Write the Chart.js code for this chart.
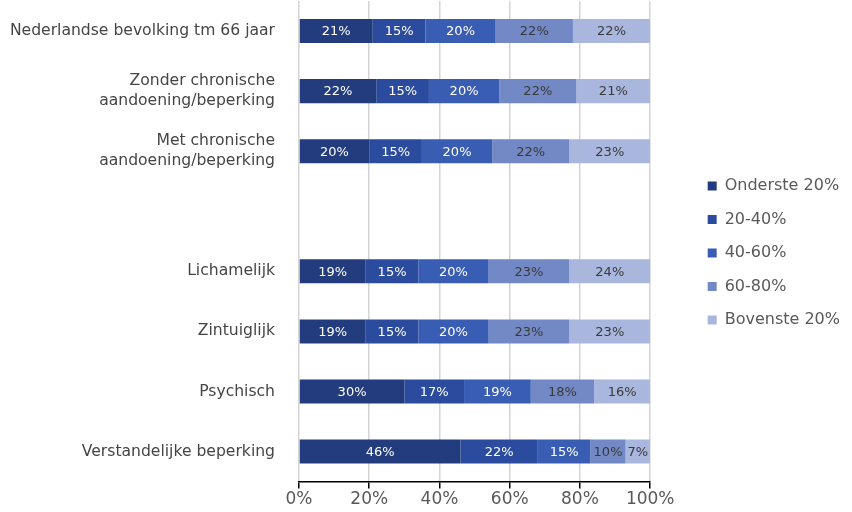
<!DOCTYPE html>
<html lang="nl">
  <head>
    <meta charset="UTF-8" />
    <title>Inkomensverdeling naar beperking</title>
    <script src="https://cdn.jsdelivr.net/npm/chart.js"></script>
    <style>
      html, body { margin: 0; padding: 0; background: #fff; }
    </style>
  </head>
  <body>
    <canvas id="myChart" width="852" height="512"></canvas>
    <script>
      // categorieën (lege rij als tussenruimte)
      var categories = [
        "Nederlandse bevolking tm 66 jaar",
        ["Zonder chronische", "aandoening/beperking"],
        ["Met chronische", "aandoening/beperking"],
        "",
        "Lichamelijk",
        "Zintuiglijk",
        "Psychisch",
        "Verstandelijke beperking",
      ]
      var seriesNames = ["Onderste 20%", "20-40%", "40-60%", "60-80%", "Bovenste 20%"]
      var onderste = [21, 22, 20, null, 19, 19, 30, 46]
      var tweede = [15, 15, 15, null, 15, 15, 17, 22]
      var derde = [20, 20, 20, null, 20, 20, 19, 15]
      var vierde = [22, 22, 22, null, 23, 23, 18, 10]
      var bovenste = [22, 21, 23, null, 24, 23, 16, 7]
      var xTicks = [0, 20, 40, 60, 80, 100]

      var colors = ["#223c7e", "#2b4c9e", "#3a5db4", "#7289c6", "#a9b7de"]
      var labelColors = ["#ffffff", "#ffffff", "#ffffff", "#3a3a3a", "#3a3a3a"]
      var values = [onderste, tweede, derde, vierde, bovenste]

      // labels in de balken
      var barLabels = {
        id: "barLabels",
        afterDatasetsDraw: function (chart) {
          var ctx = chart.ctx
          ctx.save()
          ctx.font = "13px 'DejaVu Sans'"
          ctx.textAlign = "center"
          ctx.textBaseline = "middle"
          chart.data.datasets.forEach(function (ds, i) {
            chart.getDatasetMeta(i).data.forEach(function (bar, j) {
              var v = ds.data[j]
              if (v == null) return
              var left = Math.min(bar.x, bar.base)
              var right = Math.min(Math.max(bar.x, bar.base), chart.chartArea.right)
              ctx.fillStyle = labelColors[i]
              ctx.fillText(v + "%", (left + right) / 2, bar.y + 1)
            })
          })
          ctx.restore()
        },
      }

      // legenda iets verder van de grafiek af (en iets hoger)
      var legendShift = {
        id: "legendShift",
        afterLayout: function (chart) {
          var lg = chart.legend
          if (!lg) return
          lg.left += 40
          lg.right += 40
          lg.top -= 3
          lg.bottom -= 3
        },
      }

      var ctx = document.getElementById("myChart").getContext("2d")
      new Chart(ctx, {
        type: "bar",
        data: {
          labels: categories,
          datasets: values.map(function (d, i) {
            return {
              label: seriesNames[i],
              data: d,
              backgroundColor: colors[i],
              borderWidth: 0,
              barPercentage: 0.4,
              categoryPercentage: 1,
            }
          }),
        },
        options: {
          indexAxis: "y",
          responsive: false,
          animation: false,
          layout: { padding: { top: 1, right: 42, bottom: 1, left: 0 } },
          scales: {
            x: {
              stacked: true,
              min: 0,
              max: 100,
              afterBuildTicks: function (axis) {
                axis.ticks = xTicks.map(function (v) { return { value: v } })
              },
              ticks: {
                color: "#595959",
                font: { family: "'DejaVu Sans'", size: 17 },
                padding: 1,
                callback: function (v) { return v + "%" },
              },
              grid: {
                color: "#d4d4d4",
                lineWidth: 1.5,
                tickColor: "#000",
                tickLength: 7,
              },
              border: { display: true, color: "#000", width: 1.5 },
            },
            y: {
              stacked: true,
              afterFit: function (scale) {
                scale.width = 299
                scale.paddingTop = 0
                scale.paddingBottom = 0
              },
              ticks: {
                color: "#454545",
                font: { family: "'DejaVu Sans'", size: 15.6, lineHeight: 1.3 },
                padding: 16,
                autoSkip: false,
              },
              grid: { display: false },
              border: { display: false },
            },
          },
          plugins: {
            legend: {
              position: "right",
              labels: {
                color: "#595959",
                font: { family: "'DejaVu Sans'", size: 16 },
                boxWidth: 9,
                boxHeight: 9,
                padding: 17.5,
              },
            },
            tooltip: { enabled: false },
          },
        },
        plugins: [barLabels, legendShift],
      })
    </script>
  </body>
</html>
